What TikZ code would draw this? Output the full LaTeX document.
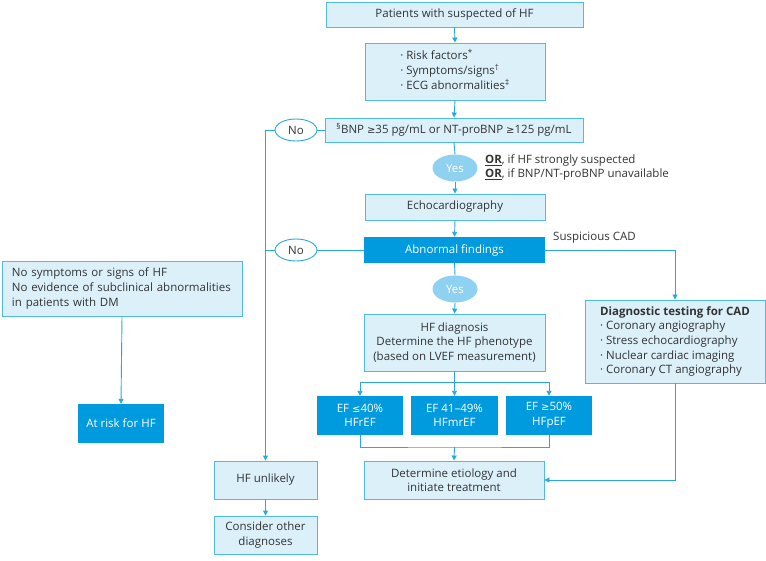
\documentclass[tikz,border=0pt]{standalone}
\usepackage{fontspec}
\setmainfont{Open Sans}
\newfontfamily\symfont{DejaVu Sans}
\newcommand{\gsym}{{\symfont\fontsize{10}{14.5}\selectfont ≥}}
\newcommand{\lsym}{{\symfont\fontsize{10}{14.5}\selectfont ≤}}
\usetikzlibrary{arrows.meta,shapes.geometric}
\definecolor{boxFill}{HTML}{DCF0FA}
\definecolor{boxLine}{HTML}{4FB9E9}
\definecolor{darkBlue}{HTML}{009ADF}
\definecolor{flowBlue}{HTML}{2AA7E1}
\definecolor{yesBlue}{HTML}{8ED1F1}
\definecolor{textGray}{HTML}{333333}
\tikzset{
  font=\fontsize{11.5}{14.6}\selectfont,
  arrow/.style={-{Triangle[length=5pt,width=5pt]}, draw=flowBlue, line width=0.9pt},
  link/.style={draw=flowBlue, line width=0.9pt},
  lightbox/.style={rectangle, draw=boxLine, line width=0.9pt, fill=boxFill, text=textGray, align=center, inner sep=0pt},
  darkbox/.style={rectangle, draw=none, fill=darkBlue, text=white, align=center, inner sep=0pt},
  noNode/.style={ellipse, draw=flowBlue, line width=0.9pt, fill=white, text=textGray, minimum width=42pt, minimum height=22pt, inner sep=0pt},
  yesNode/.style={ellipse, draw=none, fill=yesBlue, text=white, minimum width=45pt, minimum height=27pt, inner sep=0pt},
  note/.style={text=textGray, align=left, inner sep=0pt}
}

\begin{document}
\begin{tikzpicture}[x=1pt,y=-1pt]
\useasboundingbox (0,0) rectangle (766,561);

% --------------------------------------------------------------------------
% main column
% --------------------------------------------------------------------------
\node[lightbox, minimum width=257pt, minimum height=25pt] (suspect) at (454.5,14.5) {Patients with suspected of HF};
\node[lightbox, minimum width=180pt, minimum height=57pt] (risk) at (455,71.5) {\begin{tabular}{@{}l@{}}· Risk factors\textsuperscript{*}\\ · Symptoms/signs\textsuperscript{†}\\ · ECG abnormalities\textsuperscript{‡}\end{tabular}};
\node[lightbox, minimum width=258pt, minimum height=24pt] (bnp) at (454,130) {\textsuperscript{§}BNP \gsym35 pg/mL or NT-proBNP \gsym125 pg/mL};
\node[noNode] (noA) at (296,130) {No};
\node[yesNode] (yesA) at (455,168) {Yes};
\node[note, anchor=west] (orNote) at (485,167.5) {\underline{\textbf{OR}}, if HF strongly suspected\\ \underline{\textbf{OR}}, if BNP/NT-proBNP unavailable};
\node[lightbox, minimum width=180pt, minimum height=26pt] (echo) at (455,207) {Echocardiography};
\node[darkbox, minimum width=181pt, minimum height=26pt] (abnormal) at (454.5,250) {Abnormal findings};
\node[noNode] (noB) at (296,250) {No};
\node[note, anchor=west] (cadNote) at (553,238) {Suspicious CAD};
\node[yesNode] (yesB) at (455,289) {Yes};
\node[lightbox, minimum width=181pt, minimum height=57pt] (diag) at (454.5,342.5) {HF diagnosis\\ Determine the HF phenotype\\ (based on LVEF measurement)};

\node[darkbox, minimum width=86pt, minimum height=39pt] (efR) at (360,415.5) {EF \lsym40\%\\ HFrEF};
\node[darkbox, minimum width=87pt, minimum height=39pt] (efM) at (454.5,415.5) {EF 41–49\%\\ HFmrEF};
\node[darkbox, minimum width=86pt, minimum height=39pt] (efP) at (549,415.5) {EF \gsym50\%\\ HFpEF};
\node[lightbox, minimum width=180pt, minimum height=38pt] (etiology) at (454,480) {Determine etiology and\\ initiate treatment};

% side boxes
\node[lightbox, minimum width=180pt, minimum height=83pt] (cad) at (675,341.5) {\begin{tabular}{@{}l@{}}\textbf{Diagnostic testing for CAD}\\ · Coronary angiography\\ · Stress echocardiography\\ · Nuclear cardiac imaging\\ · Coronary CT angiography\end{tabular}};
\node[lightbox, minimum width=103pt, minimum height=38pt] (unlikely) at (265.5,480) {HF unlikely};
\node[lightbox, minimum width=103pt, minimum height=38pt] (other) at (265.5,535) {Consider other\\ diagnoses};
\node[lightbox, text width=220pt, inner xsep=10pt, align=left, minimum height=55pt] (nosym) at (122,288.5) {No symptoms or signs of HF\\ No evidence of subclinical abnormalities\\ in patients with DM};
\node[darkbox, minimum width=86pt, minimum height=39pt] (atrisk) at (121,423.5) {At risk for HF};

\coordinate (split) at (454.5,382);
\coordinate (merge) at (454.5,447);

% connectors
\draw[arrow] (suspect.south) -- (risk.north);
\draw[arrow] (risk.south) -- (bnp.north);
\draw[link] (bnp.west) -- (noA.east);
\draw[arrow] (noA.west) -| (unlikely.north);
\draw[link] (bnp.south) -- (yesA.north);
\draw[arrow] (yesA.south) -- (echo.north);
\draw[arrow] (echo.south) -- (abnormal.north);
\draw[link] (abnormal.west) -- (noB.east);
\draw[link] (noB.west) -- (noB.west -| unlikely.north);
\draw[arrow] (abnormal.east) -| (cad.north);
\draw[link] (abnormal.south) -- (yesB.north);
\draw[arrow] (yesB.south) -- (diag.north);
\draw[link] (diag.south) -- (split);
\draw[arrow] (split) -| (efR.north);
\draw[arrow] (split) -- (efM.north);
\draw[arrow] (split) -| (efP.north);
\draw[link] (efR.south) |- (merge) -| (efP.south);
\draw[arrow] (merge) -- (etiology.north);
\draw[arrow] (cad.south) |- (etiology.east);
\draw[arrow] (unlikely.south) -- (other.north);
\draw[arrow] (nosym.south) -- (atrisk.north);

\end{tikzpicture}
\end{document}
